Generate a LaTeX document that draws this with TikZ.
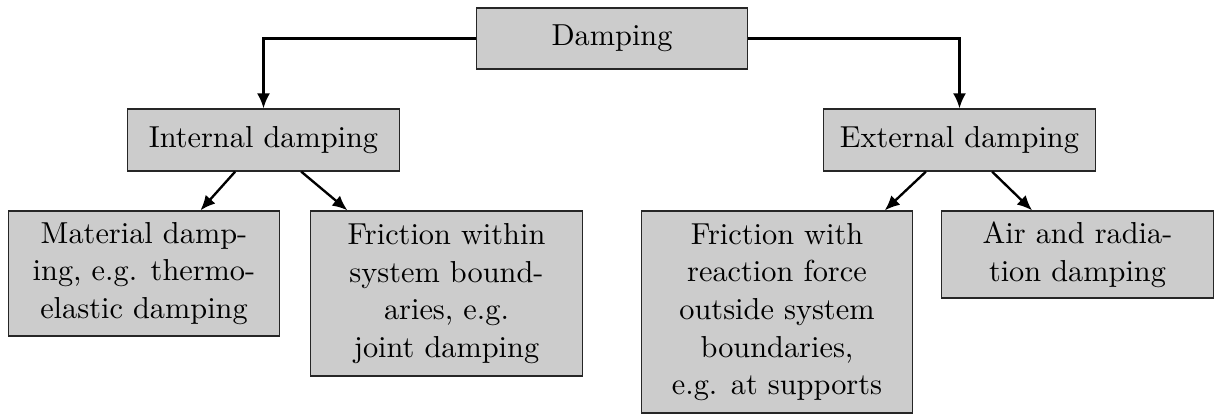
\documentclass[tikz,border=0pt]{standalone}
\usetikzlibrary{arrows.meta}
\begin{document}
\begin{tikzpicture}[x=0.361pt,y=-0.361pt,
  box/.style={draw=black!85,line width=0.45pt,fill=black!20,inner sep=0pt,
    minimum width=98pt,align=center,font=\fontsize{10.95}{13.6}\selectfont},
  conn/.style={line width=0.85pt,-{Latex[length=5.4pt,width=4.7pt]}}]
\useasboundingbox (0,0) rectangle (1214,414);
\node[box,minimum height=22pt] (dam) at (612,38.5) {Damping};
\node[box,minimum height=22.4pt] (int) at (263.5,140) {Internal damping};
\node[box,minimum height=22.4pt] (ext) at (959.5,140) {External damping};
\node[box,minimum height=45.1pt] (mat) at (144,273.5) {Material damp-\\ing, e.g. thermo-\\elastic damping};
\node[box,minimum height=59.6pt] (fwi) at (446.5,293.5) {Friction within\\system bound-\\aries, e.g.\\joint damping};
\node[box,minimum height=72.9pt] (fwo) at (777,312) {Friction with\\reaction force\\outside system\\boundaries,\\e.g. at supports};
\node[box,minimum height=31.4pt] (air) at (1077.5,254.5) {Air and radia-\\tion damping};
\draw[conn] (dam.west) -| (int.north);
\draw[conn] (dam.east) -| (ext.north);
\draw[conn] (int) -- (mat);
\draw[conn] (int) -- (fwi);
\draw[conn] (ext) -- (fwo);
\draw[conn] (ext) -- (air);
\end{tikzpicture}
\end{document}
